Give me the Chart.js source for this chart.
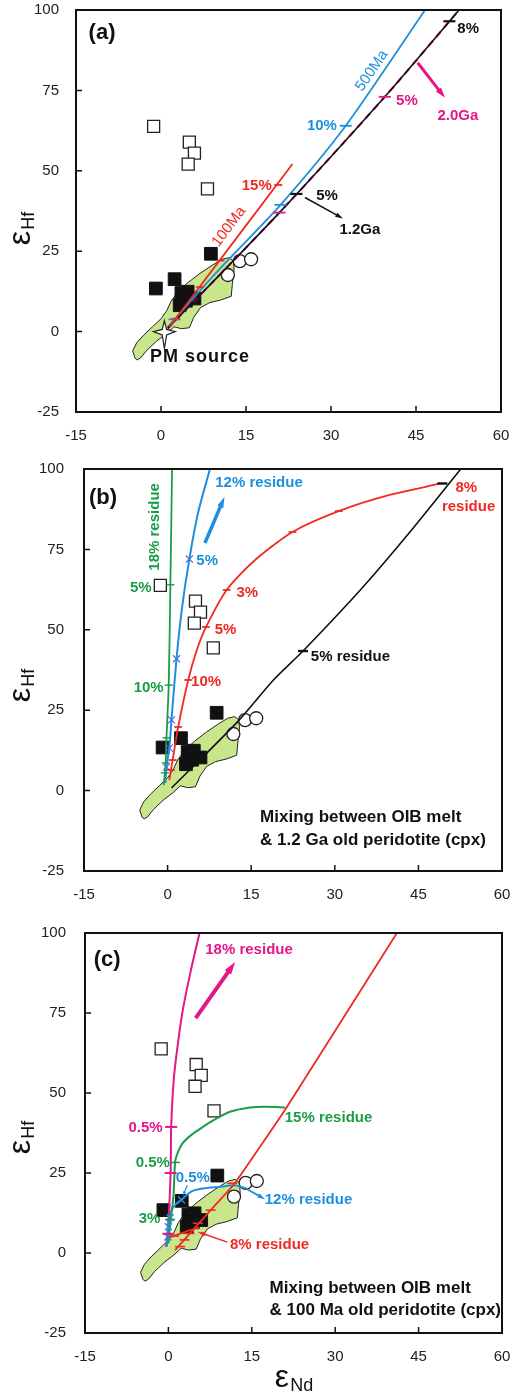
<!DOCTYPE html>
<html>
<head>
<meta charset="utf-8">
<script src="https://cdn.jsdelivr.net/npm/chart.js@4.4.1/dist/chart.umd.min.js"></script>
<style>
  html, body { margin: 0; padding: 0; background: #fff; }
  #wrap { position: relative; width: 512px; height: 1393px; overflow: hidden; }
  canvas { position: absolute; left: 0; }
</style>
</head>
<body>
<div id="wrap">
  <canvas id="pa" width="512" height="455" style="top:0"></canvas>
  <canvas id="pb" width="512" height="455" style="top:455px"></canvas>
  <canvas id="pc" width="512" height="483" style="top:910px"></canvas>
</div>
<script>
// axes: eNd on x, eHf on y
var xTicks = [-15, 0, 15, 30, 45, 60];
var yTicks = [-25, 0, 25, 50, 75, 100];

// sample groups (same in all three panels)
var openSquares = [[-1.3, 63.8], [5.0, 58.9], [5.9, 55.5], [4.8, 52.1], [8.2, 44.4]];
var filledSquares = [[-0.9, 13.4], [2.4, 16.3], [8.8, 24.2], [3.6, 12.0], [4.7, 12.4], [3.3, 8.2], [5.9, 10.3], [4.4, 9.6]];
var openCircles = [[11.8, 17.6], [13.9, 21.9], [15.9, 22.5]];
var pmSource = [0.6, 0];
var fieldOutline = [
  [-4.6, -8.2], [-5.0, -6.0], [-4.3, -3.5], [-3.0, -1.0], [-1.5, 1.5], [0.0, 4.0], [1.0, 6.5],
  [1.8, 9.5], [3.0, 12.5], [4.8, 15.3], [6.8, 18.0], [9.0, 20.6], [10.8, 22.5], [12.0, 23.0],
  [12.8, 22.0], [12.9, 19.0], [12.6, 15.0], [12.4, 11.0], [10.5, 9.8], [8.6, 9.0], [7.0, 7.5],
  [5.8, 4.5], [5.0, 1.2], [3.6, 0.9], [2.3, 1.5], [1.0, -0.6], [-0.8, -3.0], [-2.5, -5.8],
  [-3.6, -8.2], [-4.2, -8.8]
];

// (a) melt / peridotite mixing lines
var aRed100Ma = [[1.5, 1.5], [23.2, 52.1]];
var aRedTicks = [[2.6, 4.0], [6.9, 13.8], [10.5, 22.1], [20.7, 45.6]];
var aBlue500Ma = [[1.2, 1.5], [10.0, 18.8], [21.1, 39.4], [32.6, 64.0], [46.6, 100]];
var aBlueTicks = [[2.4, 3.8], [21.1, 39.4], [32.6, 64.0]];
var aBlack12Ga = [[1.2, 1.0], [20.9, 37.0], [39.5, 73.0], [52.6, 100]];
var aBlackTicks = [[23.9, 42.8], [50.9, 96.5]];
var aPinkTicks = [[20.9, 37.0], [39.5, 73.0]];

// (b) OIB melt + 1.2 Ga peridotite
var bGreen18 = [[-0.7, 1.7], [-0.35, 8.6], [-0.2, 16.4], [0.2, 32.8], [0.5, 64.0], [0.8, 100]];
var bGreenTicks = [[-0.5, 5.5], [-0.35, 8.6], [-0.2, 16.4], [0.2, 32.8], [0.5, 64.0]];
var bBlue12 = [[-0.4, 2.4], [-0.2, 7.3], [0.3, 13.2], [0.7, 22.0], [1.6, 41.0], [2.6, 57.0], [3.9, 72.0], [5.5, 86.6], [7.6, 100]];
var bBlueTicks = [[-0.2, 7.3], [0.3, 13.2], [0.7, 22.0], [1.6, 41.0], [3.9, 72.0]];
var bRed8 = [[0.3, 3.3], [0.9, 9.5], [1.9, 19.8], [3.7, 34.4], [5.2, 43.5], [6.9, 50.9], [10.6, 62.4], [15.5, 71.4], [22.4, 80.4], [30.7, 86.9], [40.0, 92.0], [49.0, 95.5]];
var bRedTicks = [[0.6, 6.4], [0.9, 9.5], [1.9, 19.8], [3.7, 34.4], [6.9, 50.9], [10.6, 62.4], [22.4, 80.4], [30.7, 86.9]];
var bBlack5 = [[0.7, 0.8], [12.5, 21.3], [19.0, 34.4], [24.3, 43.4], [34.9, 63.0], [44.0, 81.5], [52.6, 100]];
var bBlackTicks = [[24.3, 43.4], [49.3, 95.5]];

// (c) OIB melt + 100 Ma peridotite
var cPink18 = [[-0.4, 1.9], [0.0, 10.0], [0.4, 25.0], [0.5, 39.4], [1.0, 55.0], [1.8, 66.6], [2.6, 76.0], [4.0, 88.0], [5.6, 100]];
var cPinkTicks = [[0.0, 6.0], [0.4, 25.0], [0.5, 39.4]];
var cGreen15 = [[0.0, 3.0], [0.3, 8.5], [0.9, 17.6], [1.2, 28.3], [1.6, 31.0], [2.6, 34.4], [4.2, 37.0], [6.3, 39.5], [8.2, 41.6], [11.2, 44.2], [14.7, 45.5], [17.5, 45.7], [21.0, 45.5]];
var cGreenTicks = [[0.3, 10.5], [1.2, 28.3]];
var cBlue12 = [[-0.3, 2.0], [0.0, 8.2], [0.6, 13.4], [1.5, 15.5], [2.35, 16.6], [4.1, 19.2], [6.5, 20.2], [9.4, 20.7], [11.8, 21.2], [14.1, 20.2]];
var cBlueTicks = [[-0.1, 5.0], [0.0, 8.2], [0.3, 11.0], [2.35, 16.6]];
var cRed8 = [[1.2, 0.9], [7.6, 13.4], [12.0, 21.9], [21.2, 45.3], [41.1, 100]];
var cRedLow = [[-0.3, 4.5], [2.0, 6.0], [5.5, 8.0]];
var cRedTicks = [[2.1, 2.0], [2.9, 4.1], [3.8, 6.1], [5.3, 9.3], [7.6, 13.4], [11.5, 21.8], [1.0, 5.3]];

var RED = '#ee2a22', BLUE = '#1c90de', BLACK = '#111111', PINK = '#e5168a', GREEN = '#1c9c48';
var FONT = '"Liberation Sans", Arial, sans-serif';

Chart.defaults.font.family = FONT;

function pts(list) {
  return list.map(function(p) { return {x: p[0], y: p[1]}; });
}

function curve(list, color, extra) {
  var ds = {data: pts(list), showLine: true, borderColor: color, borderWidth: 1.8,
            pointRadius: 0, tension: 0.25, fill: false, order: 1};
  for (var k in extra) ds[k] = extra[k];
  return ds;
}

function marks(list, color, style, r, w) {
  return {data: pts(list), showLine: false, pointStyle: style || 'line', pointRadius: r || 5,
          pointBorderColor: color, pointBackgroundColor: color, pointBorderWidth: w || 1.8, order: 0};
}

function samples() {
  return [
    {data: pts(filledSquares), pointStyle: 'rect', pointRadius: 9, pointBackgroundColor: '#111',
     pointBorderColor: '#111', pointBorderWidth: 1, order: 5},
    {data: pts(openSquares), pointStyle: 'rect', pointRadius: 8.5, pointBackgroundColor: '#fff',
     pointBorderColor: '#222', pointBorderWidth: 1.3, order: 5},
    {data: pts(openCircles), pointStyle: 'circle', pointRadius: 6.5, pointBackgroundColor: '#fff',
     pointBorderColor: '#222', pointBorderWidth: 1.3, order: 5}
  ];
}

function toPx(chart, x, y) {
  return [chart.scales.x.getPixelForValue(x), chart.scales.y.getPixelForValue(y)];
}

function drawField(chart) {
  var ctx = chart.ctx;
  ctx.save();
  ctx.beginPath();
  fieldOutline.forEach(function(p, i) {
    var q = toPx(chart, p[0], p[1]);
    if (i === 0) ctx.moveTo(q[0], q[1]); else ctx.lineTo(q[0], q[1]);
  });
  ctx.closePath();
  ctx.fillStyle = '#c9e68c';
  ctx.fill();
  ctx.lineWidth = 1;
  ctx.strokeStyle = '#222';
  ctx.stroke();
  ctx.restore();
}

function drawStar(chart) {
  var ctx = chart.ctx, c = toPx(chart, pmSource[0], pmSource[1]);
  var rays = [[0, -11], [11, 0], [0, 17], [-11, 0]];
  ctx.save();
  ctx.beginPath();
  rays.forEach(function(r, i) {
    var n = rays[(i + 1) % 4];
    ctx.lineTo(c[0] + r[0], c[1] + r[1]);
    ctx.lineTo(c[0] + (r[0] + n[0]) * 0.2, c[1] + (r[1] + n[1]) * 0.2);
  });
  ctx.closePath();
  ctx.fillStyle = '#fff';
  ctx.fill();
  ctx.lineWidth = 1.2;
  ctx.strokeStyle = '#222';
  ctx.stroke();
  ctx.restore();
}

// a = [x1, y1, x2, y2, color, width, head]
function drawArrow(chart, a) {
  var ctx = chart.ctx, p = toPx(chart, a[0], a[1]), q = toPx(chart, a[2], a[3]);
  var ang = Math.atan2(q[1] - p[1], q[0] - p[0]), h = a[6];
  ctx.save();
  ctx.strokeStyle = a[4];
  ctx.fillStyle = a[4];
  ctx.lineWidth = a[5];
  ctx.beginPath();
  ctx.moveTo(p[0], p[1]);
  ctx.lineTo(q[0] - Math.cos(ang) * h * 0.8, q[1] - Math.sin(ang) * h * 0.8);
  ctx.stroke();
  ctx.beginPath();
  ctx.moveTo(q[0], q[1]);
  ctx.lineTo(q[0] - Math.cos(ang - 0.3) * h, q[1] - Math.sin(ang - 0.3) * h);
  ctx.lineTo(q[0] - Math.cos(ang + 0.3) * h, q[1] - Math.sin(ang + 0.3) * h);
  ctx.closePath();
  ctx.fill();
  ctx.restore();
}

function drawLabel(chart, l) {
  var ctx = chart.ctx, p = toPx(chart, l.x, l.y);
  ctx.save();
  ctx.translate(p[0], p[1]);
  if (l.along) {
    var a = toPx(chart, l.along[0], l.along[1]), b = toPx(chart, l.along[2], l.along[3]);
    ctx.rotate(Math.atan2(b[1] - a[1], b[0] - a[0]));
  } else if (l.rot) {
    ctx.rotate(l.rot * Math.PI / 180);
  }
  ctx.font = (l.w || 'bold') + ' ' + (l.s || 15) + 'px ' + FONT;
  if (l.sp) ctx.letterSpacing = l.sp + 'px';
  ctx.fillStyle = l.c || BLACK;
  ctx.textAlign = l.a || 'center';
  ctx.textBaseline = 'middle';
  ctx.fillText(l.t, 0, 0);
  ctx.restore();
}

function drawFrame(chart) {
  var ctx = chart.ctx, a = chart.chartArea, sx = chart.scales.x, sy = chart.scales.y;
  ctx.save();
  ctx.strokeStyle = '#111';
  ctx.lineWidth = 2;
  ctx.strokeRect(a.left, a.top, a.right - a.left, a.bottom - a.top);
  ctx.lineWidth = 1.5;
  ctx.beginPath();
  xTicks.slice(1, -1).forEach(function(v) {
    var p = sx.getPixelForValue(v);
    ctx.moveTo(p, a.bottom); ctx.lineTo(p, a.bottom - 6);
  });
  yTicks.slice(1, -1).forEach(function(v) {
    var p = sy.getPixelForValue(v);
    ctx.moveTo(a.left, p); ctx.lineTo(a.left + 6, p);
  });
  ctx.stroke();
  ctx.restore();
}

// big greek letter with a smaller subscript, centred on cx
function subscripted(ctx, big, small, cx, base) {
  ctx.textAlign = 'left';
  ctx.textBaseline = 'alphabetic';
  ctx.font = '32px ' + FONT;
  var w1 = ctx.measureText(big).width;
  ctx.font = '18px ' + FONT;
  var w2 = ctx.measureText(small).width;
  var x0 = cx - (w1 + w2) / 2;
  ctx.font = '32px ' + FONT;
  ctx.fillText(big, x0, base);
  ctx.font = '18px ' + FONT;
  ctx.fillText(small, x0 + w1 + 1, base + 4);
}

function drawTitles(chart, panel) {
  var ctx = chart.ctx, a = chart.chartArea;
  ctx.save();
  ctx.fillStyle = '#111';
  ctx.translate(panel.yTitleX, (a.top + a.bottom) / 2 + panel.yTitleShift);
  ctx.rotate(-Math.PI / 2);
  subscripted(ctx, '\u03b5', 'Hf', 0, 0);
  ctx.restore();
  if (panel.xTitle) {
    ctx.save();
    ctx.fillStyle = '#111';
    subscripted(ctx, '\u03b5', 'Nd', (a.left + a.right) / 2, a.bottom + 54);
    ctx.restore();
  }
}

function baseOptions(box) {
  var tickFont = {family: FONT, size: 15};
  return {
    responsive: false,
    animation: false,
    devicePixelRatio: 1,
    layout: {padding: {left: 0, right: box.right, top: box.top, bottom: 0}},
    plugins: {legend: {display: false}, tooltip: {enabled: false}},
    scales: {
      x: {
        type: 'linear', min: xTicks[0], max: xTicks[xTicks.length - 1],
        grid: {display: false}, border: {display: false},
        ticks: {color: '#222', font: tickFont, padding: 7, maxRotation: 0, autoSkip: false},
        afterBuildTicks: function(s) { s.ticks = xTicks.map(function(v) { return {value: v}; }); },
        afterFit: function(s) { s.height = box.xh; s.paddingLeft = 0; s.paddingRight = 0; }
      },
      y: {
        type: 'linear', min: yTicks[0], max: yTicks[yTicks.length - 1],
        grid: {display: false}, border: {display: false},
        ticks: {color: '#222', font: tickFont, padding: box.yPad, autoSkip: false},
        afterBuildTicks: function(s) { s.ticks = yTicks.map(function(v) { return {value: v}; }); },
        afterFit: function(s) { s.width = box.left; s.paddingTop = 0; s.paddingBottom = 0; }
      }
    }
  };
}

function makePanel(panel) {
  var decor = {
    id: 'decor',
    beforeDatasetsDraw: function(chart) { drawField(chart); },
    afterDatasetsDraw: function(chart) {
      panel.arrows.forEach(function(a) { drawArrow(chart, a); });
      if (panel.star) drawStar(chart);
      panel.labels.forEach(function(l) { drawLabel(chart, l); });
    },
    afterDraw: function(chart) {
      drawFrame(chart);
      drawTitles(chart, panel);
    }
  };
  return new Chart(document.getElementById(panel.id), {
    type: 'scatter',
    data: {datasets: samples().concat(panel.datasets)},
    options: baseOptions(panel.box),
    plugins: [decor]
  });
}

makePanel({
  id: 'pa',
  box: {left: 76, right: 11, top: 9, xh: 43, yPad: 9},
  yTitleX: 30, yTitleShift: 18, star: true,
  datasets: [
    curve(aRed100Ma, RED),
    curve(aBlack12Ga, BLACK, {borderWidth: 1.6}),
    curve(aBlack12Ga, PINK, {borderDash: [7, 5], borderWidth: 2.2}),
    curve(aBlue500Ma, BLUE),
    marks(aRedTicks, RED, 'line', 4),
    marks(aBlueTicks, BLUE, 'line', 6),
    marks(aPinkTicks, PINK, 'line', 6),
    marks(aBlackTicks, BLACK, 'line', 6, 2.2)
  ],
  arrows: [
    [25.4, 41.7, 32.1, 35.2, BLACK, 1.5, 8],
    [45.3, 83.6, 50.1, 72.7, PINK, 3, 11]
  ],
  labels: [
    {t: '(a)', x: -10.4, y: 92.9, s: 22},
    {t: '15%', x: 16.9, y: 45.4, c: RED},
    {t: '100Ma', x: 12.0, y: 32.6, c: RED, w: 'normal', along: aRed100Ma[0].concat(aRed100Ma[1])},
    {t: '10%', x: 28.4, y: 64, c: BLUE},
    {t: '500Ma', x: 37.2, y: 81.1, c: BLUE, w: 'normal', along: [32.6, 64.0, 46.6, 100]},
    {t: '8%', x: 54.2, y: 94.1},
    {t: '5%', x: 43.4, y: 71.8, c: PINK},
    {t: '2.0Ga', x: 52.4, y: 67.1, c: PINK},
    {t: '5%', x: 29.3, y: 42.3},
    {t: '1.2Ga', x: 35.1, y: 31.5},
    {t: 'PM source', x: 6.9, y: -7.9, s: 18, sp: 1}
  ]
});

makePanel({
  id: 'pb',
  box: {left: 84, right: 3, top: 14, xh: 39, yPad: 12},
  yTitleX: 30, yTitleShift: 16,
  datasets: [
    curve(bBlack5, BLACK, {borderWidth: 1.6}),
    curve(bRed8, RED),
    curve(bGreen18, GREEN),
    curve(bBlue12, BLUE, {borderWidth: 2}),
    marks(bRedTicks, RED, 'line', 4, 1.5),
    marks(bRedTicks, RED, 'line', 3, 1.2),
    marks(bGreenTicks, GREEN, 'line', 4, 1.4),
    marks(bBlueTicks, '#4a6fd6', 'crossRot', 5, 1.2),
    marks(bBlackTicks, BLACK, 'line', 5, 2.4)
  ],
  arrows: [
    [6.7, 77, 10.2, 91.3, BLUE, 3.5, 11]
  ],
  labels: [
    {t: '(b)', x: -11.6, y: 91, s: 22},
    {t: '18% residue', x: -2.3, y: 82, c: GREEN, rot: -90},
    {t: '12% residue', x: 16.4, y: 95.6, c: BLUE},
    {t: '5%', x: 7.1, y: 71.4, c: BLUE},
    {t: '8%', x: 53.6, y: 94.1, c: RED},
    {t: 'residue', x: 54, y: 88.2, c: RED},
    {t: '3%', x: 14.3, y: 61.4, c: RED},
    {t: '5%', x: 10.4, y: 49.9, c: RED},
    {t: '10%', x: 6.9, y: 33.8, c: RED},
    {t: '5%', x: -4.8, y: 63, c: GREEN},
    {t: '10%', x: -3.4, y: 31.9, c: GREEN},
    {t: '5% residue', x: 32.8, y: 41.5},
    {t: 'Mixing between OIB melt', x: 16.6, y: -8.2, s: 17, a: 'left'},
    {t: '& 1.2 Ga old peridotite (cpx)', x: 16.6, y: -15.4, s: 17, a: 'left'}
  ]
});

makePanel({
  id: 'pc',
  box: {left: 85, right: 2, top: 23, xh: 60, yPad: 11},
  yTitleX: 30, yTitleShift: 5, xTitle: true,
  datasets: [
    curve(cRed8, RED, {tension: 0.1}),
    curve(cRedLow, RED),
    curve(cGreen15, GREEN, {borderWidth: 2}),
    curve(cBlue12, BLUE, {borderWidth: 2}),
    curve(cPink18, PINK, {borderWidth: 2}),
    marks(cRedTicks, RED, 'line', 5, 1.6),
    marks(cGreenTicks, GREEN, 'line', 5, 1.5),
    marks(cPinkTicks, PINK, 'line', 6, 2),
    marks(cBlueTicks, BLUE, 'crossRot', 5, 1.4)
  ],
  arrows: [
    [4.9, 73.4, 12.0, 90.9, PINK, 4, 13],
    [14.1, 20.0, 17.4, 16.8, BLUE, 2, 8],
    [10.6, 3.4, 5.3, 6.6, RED, 1.5, 8],
    [3.4, 21.2, 2.6, 17.8, BLUE, 1.2, 5]
  ],
  labels: [
    {t: '(c)', x: -11, y: 91.6, s: 22},
    {t: '18% residue', x: 14.5, y: 94.7, c: PINK},
    {t: '0.5%', x: -4.1, y: 39.1, c: PINK},
    {t: '15% residue', x: 28.8, y: 42.2, c: GREEN},
    {t: '0.5%', x: -2.8, y: 28.1, c: GREEN},
    {t: '0.5%', x: 4.4, y: 23.4, c: BLUE},
    {t: '3%', x: -3.4, y: 10.6, c: GREEN},
    {t: '12% residue', x: 25.2, y: 16.6, c: BLUE},
    {t: '8% residue', x: 18.2, y: 2.5, c: RED},
    {t: 'Mixing between OIB melt', x: 18.2, y: -10.9, s: 17, a: 'left'},
    {t: '& 100 Ma old peridotite (cpx)', x: 18.2, y: -17.8, s: 17, a: 'left'}
  ]
});
</script>
</body>
</html>
